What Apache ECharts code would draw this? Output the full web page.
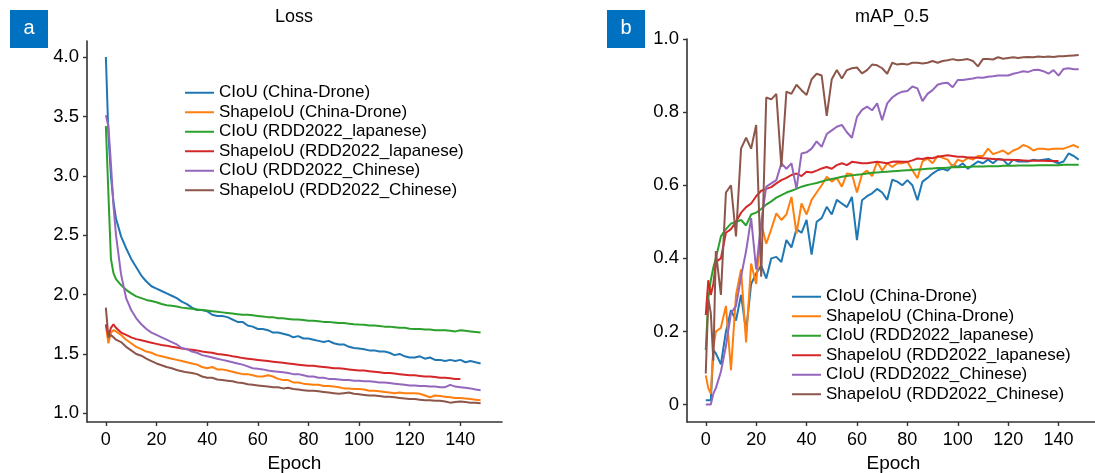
<!DOCTYPE html>
<html>
<head>
<meta charset="utf-8">
<script src="https://cdn.jsdelivr.net/npm/echarts@6.0.0/dist/echarts.min.js"></script>
<style>
  html, body { margin: 0; padding: 0; background: #fff; }
  #chart { width: 1095px; height: 473px; }
</style>
</head>
<body>
<div id="chart"></div>
<script>
const epochs = [0, 1, 2, 3, 4, 6, 8, 10, 12, 14,
  16, 18, 20, 22, 24, 26, 28, 30, 32, 34,
  36, 38, 40, 42, 44, 46, 48, 50, 52, 54,
  56, 58, 60, 62, 64, 66, 68, 70, 72, 74,
  76, 78, 80, 82, 84, 86, 88, 90, 92, 94,
  96, 98, 100, 102, 104, 106, 108, 110, 112, 114,
  116, 118, 120, 122, 124, 126, 128, 130, 132, 134,
  136, 138, 140, 142, 144, 146, 148]

const seriesNames = [
  'CIoU (China-Drone)',
  'ShapeIoU (China-Drone)',
  'CIoU (RDD2022_lapanese)',
  'ShapeIoU (RDD2022_lapanese)',
  'CIoU (RDD2022_Chinese)',
  'ShapeIoU (RDD2022_Chinese)'
]
const colors = ['#1f77b4', '#ff7f0e', '#2ca02c', '#d62728', '#9467bd', '#8c564b']

const epochTicks = [0, 20, 40, 60, 80, 100, 120, 140]
const lossTicks = [1.0, 1.5, 2.0, 2.5, 3.0, 3.5, 4.0]
const mapTicks = [0, 0.2, 0.4, 0.6, 0.8, 1.0]

// ---- Loss ----
const lossCIoUDrone = [4.00, 3.35, 3.00, 2.78, 2.64, 2.49, 2.39, 2.30, 2.23, 2.16,
  2.11, 2.07, 2.05, 2.03, 2.01, 1.99, 1.97, 1.94, 1.92, 1.89,
  1.87, 1.87, 1.86, 1.83, 1.82, 1.82, 1.81, 1.79, 1.77, 1.77,
  1.74, 1.73, 1.71, 1.71, 1.70, 1.68, 1.68, 1.67, 1.66, 1.64,
  1.65, 1.63, 1.63, 1.62, 1.61, 1.60, 1.61, 1.59, 1.58, 1.58,
  1.56, 1.55, 1.545, 1.54, 1.53, 1.53, 1.52, 1.52, 1.51, 1.49,
  1.50, 1.48, 1.47, 1.47, 1.48, 1.46, 1.47, 1.45, 1.45, 1.44,
  1.45, 1.44, 1.45, 1.43, 1.44, 1.43, 1.42]
const lossShapeDrone = [1.74, 1.59, 1.68, 1.70, 1.69, 1.66, 1.62, 1.59, 1.56, 1.54,
  1.52, 1.51, 1.49, 1.48, 1.47, 1.46, 1.45, 1.44, 1.43, 1.42,
  1.41, 1.39, 1.38, 1.39, 1.37, 1.37, 1.36, 1.35, 1.34, 1.33,
  1.33, 1.32, 1.31, 1.31, 1.32, 1.31, 1.29, 1.28, 1.28, 1.26,
  1.26, 1.25, 1.245, 1.24, 1.24, 1.23, 1.23, 1.225, 1.22, 1.21,
  1.21, 1.205, 1.205, 1.20, 1.19, 1.19, 1.185, 1.18, 1.175, 1.17,
  1.175, 1.17, 1.17, 1.17, 1.165, 1.15, 1.135, 1.15, 1.145, 1.14,
  1.135, 1.13, 1.13, 1.125, 1.12, 1.115, 1.11]
const lossCIoUJap = [3.42, 2.85, 2.30, 2.18, 2.13, 2.08, 2.04, 2.01, 1.985, 1.97,
  1.955, 1.945, 1.935, 1.92, 1.91, 1.905, 1.90, 1.89, 1.885, 1.88,
  1.875, 1.87, 1.865, 1.86, 1.855, 1.85, 1.845, 1.84, 1.835, 1.83,
  1.83, 1.825, 1.82, 1.815, 1.81, 1.81, 1.80, 1.80, 1.795, 1.79,
  1.79, 1.785, 1.78, 1.78, 1.775, 1.77, 1.77, 1.765, 1.76, 1.76,
  1.755, 1.75, 1.747, 1.745, 1.74, 1.74, 1.735, 1.73, 1.73, 1.725,
  1.72, 1.72, 1.713, 1.71, 1.71, 1.705, 1.705, 1.70, 1.70, 1.70,
  1.695, 1.69, 1.70, 1.695, 1.69, 1.685, 1.68]
const lossShapeJap = [1.75, 1.65, 1.72, 1.75, 1.72, 1.68, 1.66, 1.64, 1.625, 1.615,
  1.605, 1.595, 1.585, 1.575, 1.57, 1.56, 1.555, 1.545, 1.54, 1.535,
  1.53, 1.52, 1.515, 1.51, 1.50, 1.495, 1.49, 1.48, 1.475, 1.465,
  1.46, 1.455, 1.45, 1.445, 1.44, 1.435, 1.43, 1.425, 1.42, 1.415,
  1.41, 1.405, 1.40, 1.40, 1.395, 1.39, 1.385, 1.38, 1.38, 1.375,
  1.37, 1.365, 1.36, 1.36, 1.355, 1.35, 1.345, 1.34, 1.34, 1.335,
  1.33, 1.325, 1.32, 1.32, 1.315, 1.31, 1.31, 1.305, 1.30, 1.30,
  1.295, 1.29, 1.29]
const lossCIoUChn = [3.51, 3.42, 3.10, 2.75, 2.50, 2.17, 1.97, 1.87, 1.80, 1.75,
  1.71, 1.68, 1.66, 1.64, 1.62, 1.60, 1.58, 1.55, 1.54, 1.52,
  1.51, 1.49, 1.48, 1.47, 1.46, 1.45, 1.44, 1.43, 1.42, 1.41,
  1.395, 1.38, 1.375, 1.37, 1.36, 1.355, 1.35, 1.345, 1.34, 1.33,
  1.33, 1.32, 1.31, 1.31, 1.30, 1.30, 1.29, 1.29, 1.285, 1.28,
  1.28, 1.275, 1.275, 1.27, 1.27, 1.265, 1.26, 1.26, 1.255, 1.25,
  1.245, 1.24, 1.235, 1.235, 1.23, 1.23, 1.225, 1.225, 1.22, 1.22,
  1.24, 1.225, 1.22, 1.215, 1.21, 1.20, 1.195]
const lossShapeChn = [1.89, 1.64, 1.66, 1.64, 1.62, 1.60, 1.56, 1.53, 1.50, 1.485,
  1.46, 1.44, 1.42, 1.405, 1.39, 1.38, 1.365, 1.355, 1.345, 1.34,
  1.33, 1.31, 1.30, 1.30, 1.285, 1.28, 1.275, 1.27, 1.26, 1.255,
  1.245, 1.24, 1.235, 1.23, 1.225, 1.22, 1.22, 1.21, 1.215, 1.205,
  1.20, 1.195, 1.19, 1.19, 1.185, 1.18, 1.175, 1.17, 1.165, 1.17,
  1.175, 1.165, 1.16, 1.155, 1.15, 1.15, 1.145, 1.14, 1.14, 1.135,
  1.13, 1.125, 1.12, 1.12, 1.115, 1.11, 1.11, 1.105, 1.105, 1.10,
  1.09, 1.095, 1.10, 1.095, 1.09, 1.09, 1.085]

// ---- mAP_0.5 ----
const mapCIoUDrone = [0.012, 0.012, 0.012, 0.149, 0.14, 0.11, 0.20, 0.258, 0.23, 0.30,
  0.20, 0.33, 0.359, 0.38, 0.345, 0.40, 0.404, 0.39, 0.45, 0.43,
  0.48, 0.47, 0.505, 0.41, 0.50, 0.51, 0.541, 0.52, 0.56, 0.55,
  0.54, 0.568, 0.45, 0.559, 0.57, 0.578, 0.59, 0.58, 0.56, 0.615,
  0.61, 0.60, 0.614, 0.60, 0.559, 0.61, 0.62, 0.632, 0.641, 0.645,
  0.64, 0.655, 0.65, 0.66, 0.645, 0.655, 0.665, 0.66, 0.67, 0.66,
  0.672, 0.67, 0.655, 0.67, 0.665, 0.665, 0.665, 0.67, 0.668, 0.67,
  0.672, 0.665, 0.66, 0.665, 0.687, 0.68, 0.67]
const mapShapeDrone = [0.08, 0.045, 0.03, 0.155, 0.20, 0.21, 0.27, 0.094, 0.30, 0.37,
  0.17, 0.386, 0.33, 0.495, 0.44, 0.48, 0.523, 0.505, 0.52, 0.568,
  0.468, 0.55, 0.52, 0.56, 0.58, 0.60, 0.623, 0.61, 0.62, 0.596,
  0.632, 0.63, 0.58, 0.63, 0.64, 0.625, 0.664, 0.64, 0.66, 0.65,
  0.66, 0.66, 0.664, 0.641, 0.619, 0.665, 0.673, 0.66, 0.68, 0.675,
  0.67, 0.65, 0.67, 0.665, 0.675, 0.67, 0.68, 0.68, 0.70, 0.685,
  0.69, 0.695, 0.685, 0.695, 0.70, 0.71, 0.705, 0.695, 0.70, 0.70,
  0.698, 0.70, 0.70, 0.70, 0.705, 0.71, 0.703]
const mapCIoUJap = [0.149, 0.29, 0.34, 0.375, 0.40, 0.46, 0.48, 0.495, 0.50, 0.505,
  0.49, 0.52, 0.525, 0.535, 0.547, 0.556, 0.566, 0.573, 0.58, 0.585,
  0.59, 0.596, 0.60, 0.603, 0.606, 0.61, 0.614, 0.617, 0.62, 0.623,
  0.625, 0.627, 0.629, 0.63, 0.632, 0.634, 0.635, 0.636, 0.637, 0.638,
  0.639, 0.64, 0.641, 0.642, 0.643, 0.644, 0.645, 0.646, 0.647, 0.647,
  0.648, 0.649, 0.649, 0.65, 0.65, 0.651, 0.651, 0.651, 0.652, 0.652,
  0.652, 0.653, 0.653, 0.653, 0.654, 0.654, 0.654, 0.654, 0.655, 0.655,
  0.655, 0.655, 0.655, 0.656, 0.656, 0.656, 0.656]
const mapShapeJap = [0.245, 0.34, 0.30, 0.33, 0.39, 0.40, 0.47, 0.48, 0.50, 0.525,
  0.54, 0.55, 0.57, 0.585, 0.59, 0.595, 0.605, 0.614, 0.62, 0.628,
  0.632, 0.625, 0.637, 0.635, 0.64, 0.646, 0.65, 0.645, 0.655, 0.66,
  0.655, 0.664, 0.662, 0.66, 0.66, 0.662, 0.664, 0.662, 0.66, 0.664,
  0.665, 0.664, 0.664, 0.668, 0.673, 0.672, 0.675, 0.674, 0.678, 0.68,
  0.682, 0.68, 0.678, 0.678, 0.676, 0.676, 0.675, 0.674, 0.673, 0.672,
  0.671, 0.67, 0.67, 0.669, 0.669, 0.668, 0.667, 0.667, 0.667, 0.667,
  0.666, 0.666, 0.666]
const mapCIoUChn = [0.0, 0.0, 0.0, 0.03, 0.045, 0.09, 0.16, 0.25, 0.27, 0.35,
  0.42, 0.51, 0.37, 0.50, 0.596, 0.605, 0.614, 0.66, 0.645, 0.66,
  0.59, 0.687, 0.69, 0.70, 0.72, 0.705, 0.74, 0.75, 0.76, 0.765,
  0.745, 0.73, 0.787, 0.806, 0.815, 0.805, 0.824, 0.778, 0.824, 0.84,
  0.85, 0.856, 0.858, 0.87, 0.865, 0.83, 0.85, 0.86, 0.875, 0.879,
  0.88, 0.868, 0.888, 0.888, 0.89, 0.892, 0.895, 0.894, 0.897, 0.898,
  0.90, 0.90, 0.90, 0.905, 0.908, 0.912, 0.91, 0.915, 0.916, 0.912,
  0.905, 0.915, 0.90, 0.918, 0.92, 0.917, 0.917]
const mapShapeChn = [0.085, 0.29, 0.25, 0.12, 0.42, 0.30, 0.58, 0.60, 0.46, 0.70,
  0.73, 0.70, 0.765, 0.35, 0.84, 0.835, 0.85, 0.65, 0.856, 0.85,
  0.875, 0.86, 0.847, 0.89, 0.905, 0.90, 0.79, 0.89, 0.915, 0.892,
  0.915, 0.92, 0.922, 0.906, 0.915, 0.93, 0.928, 0.92, 0.905, 0.935,
  0.93, 0.932, 0.93, 0.935, 0.935, 0.933, 0.935, 0.94, 0.935, 0.94,
  0.942, 0.945, 0.942, 0.943, 0.945, 0.94, 0.925, 0.945, 0.945, 0.944,
  0.95, 0.946, 0.948, 0.95, 0.948, 0.95, 0.951, 0.95, 0.952, 0.951,
  0.952, 0.951, 0.953, 0.953, 0.954, 0.955, 0.956]

const lossData = [lossCIoUDrone, lossShapeDrone, lossCIoUJap, lossShapeJap, lossCIoUChn, lossShapeChn]
const mapData = [mapCIoUDrone, mapShapeDrone, mapCIoUJap, mapShapeJap, mapCIoUChn, mapShapeChn]

const FONT = "'Liberation Sans', Arial, Helvetica, sans-serif"
const AXIS_COLOR = '#333'

function pairs(values) {
  return values.map((v, i) => [epochs[i], v])
}

function xAxisFor(gridIndex) {
  return {
    gridIndex: gridIndex,
    type: 'value',
    min: -7.45,
    max: 156.45,
    name: 'Epoch',
    nameLocation: 'middle',
    nameGap: 27,
    nameTextStyle: { fontSize: 19, color: '#000', fontFamily: FONT },
    axisLine: { show: true, onZero: false, lineStyle: { color: AXIS_COLOR, width: 1.6 } },
    axisTick: { show: true, inside: false, length: 4, customValues: epochTicks, lineStyle: { color: AXIS_COLOR, width: 1.4 } },
    axisLabel: { customValues: epochTicks, fontSize: 18, color: '#000', margin: 9, fontFamily: FONT },
    splitLine: { show: false }
  }
}

function yAxisFor(gridIndex, min, max, ticks, fmt) {
  return {
    gridIndex: gridIndex,
    type: 'value',
    min: min,
    max: max,
    axisLine: { show: true, onZero: false, lineStyle: { color: AXIS_COLOR, width: 1.6 } },
    axisTick: { show: true, inside: false, length: 4, customValues: ticks, lineStyle: { color: AXIS_COLOR, width: 1.4 } },
    axisLabel: { customValues: ticks, fontSize: 18.5, color: '#000', margin: 8, fontFamily: FONT, formatter: fmt },
    splitLine: { show: false }
  }
}

function legendFor(left, top) {
  return {
    orient: 'vertical',
    left: left,
    top: top,
    padding: 0,
    itemGap: 0,
    itemWidth: 29,
    itemHeight: 2,
    icon: 'rect',
    selectedMode: false,
    data: seriesNames,
    textStyle: { fontSize: 17, color: '#000', fontFamily: FONT, lineHeight: 19.5 }
  }
}

const series = []
lossData.forEach((arr, i) => {
  series.push({
    name: seriesNames[i], type: 'line', xAxisIndex: 0, yAxisIndex: 0,
    data: pairs(arr), showSymbol: false, color: colors[i],
    lineStyle: { width: 2 }, animation: false
  })
})
mapData.forEach((arr, i) => {
  series.push({
    name: seriesNames[i], type: 'line', xAxisIndex: 1, yAxisIndex: 1,
    data: pairs(arr), showSymbol: false, color: colors[i],
    lineStyle: { width: 2 }, animation: false
  })
})

const chart = echarts.init(document.getElementById('chart'))
const option = {
  backgroundColor: '#fff',
  animation: false,
  title: [
    { text: 'Loss', left: 294, top: 8, textAlign: 'center', padding: 0,
      textStyle: { fontSize: 18, fontWeight: 'normal', color: '#000', fontFamily: FONT } },
    { text: 'mAP_0.5', left: 892, top: 8, textAlign: 'center', padding: 0,
      textStyle: { fontSize: 18, fontWeight: 'normal', color: '#000', fontFamily: FONT } }
  ],
  legend: [legendFor(185, 83), legendFor(792, 287)],
  grid: [
    { left: 87, right: 593, top: 41, bottom: 51, outerBoundsMode: 'none' },
    { left: 687, right: -5, top: 39, bottom: 51, outerBoundsMode: 'none' }
  ],
  xAxis: [xAxisFor(0), xAxisFor(1)],
  yAxis: [
    yAxisFor(0, 0.927, 4.135, lossTicks, v => v.toFixed(1)),
    yAxisFor(1, -0.0476, 1.0, mapTicks, v => (v === 0 ? '0' : v.toFixed(1)))
  ],
  graphic: [
    { type: 'rect', left: 10, top: 10, shape: { width: 38, height: 38 }, style: { fill: '#0070c0' } },
    { type: 'text', x: 29, y: 28, style: { text: 'a', fill: '#fff', fontSize: 20, fontFamily: FONT, align: 'center', verticalAlign: 'middle' } },
    { type: 'rect', left: 607, top: 10, shape: { width: 38, height: 38 }, style: { fill: '#0070c0' } },
    { type: 'text', x: 626, y: 28, style: { text: 'b', fill: '#fff', fontSize: 20, fontFamily: FONT, align: 'center', verticalAlign: 'middle' } }
  ],
  series: series
}
chart.setOption(option)
</script>
</body>
</html>
